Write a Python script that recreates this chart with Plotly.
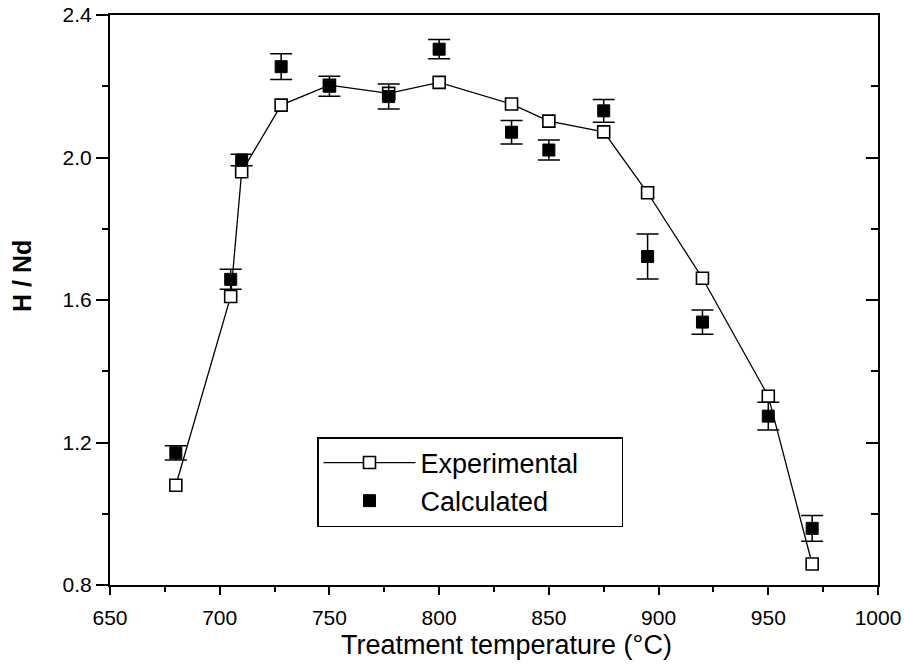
import plotly.graph_objects as go

# Experimental data (open squares, connected)
exp_T = [680, 705, 710, 728, 750, 777, 800, 833, 850, 875, 895, 920, 950, 970]
exp_H = [1.08, 1.61, 1.96, 2.147, 2.203, 2.18, 2.211, 2.15, 2.102, 2.072, 1.901, 1.661, 1.33, 0.859]

# Calculated data (filled squares with error bars)
calc_T = [680, 705, 710, 728, 750, 777, 800, 833, 850, 875, 895, 920, 950, 970]
calc_H = [1.171, 1.658, 1.993, 2.255, 2.200, 2.171, 2.304, 2.071, 2.021, 2.131, 1.722, 1.538, 1.274, 0.959]
calc_err = [0.02, 0.028, 0.016, 0.036, 0.028, 0.035, 0.027, 0.033, 0.028, 0.032, 0.063, 0.034, 0.039, 0.036]

FONT = "Liberation Sans, Arial, sans-serif"
NB = "\u00a0" * 5

fig = go.Figure()

fig.add_trace(go.Scatter(
    x=exp_T, y=exp_H, mode="lines+markers", name="Experimental" + NB,
    line=dict(color="black", width=1.3),
    marker=dict(symbol="square", size=12, color="white",
                line=dict(color="black", width=1.6)),
))

fig.add_trace(go.Scatter(
    x=calc_T, y=calc_H, mode="markers", name="Calculated",
    marker=dict(symbol="square", size=12, color="black",
                line=dict(color="black", width=1)),
    error_y=dict(type="data", array=calc_err, visible=True,
                 color="black", thickness=1.5, width=11),
))

# invisible trace to carry right y-axis with inward ticks
fig.add_trace(go.Scatter(x=[650], y=[0.8], yaxis="y2", mode="markers",
                         marker=dict(opacity=0), showlegend=False, hoverinfo="skip"))

fig.update_layout(
    width=904, height=672,
    margin=dict(l=110, r=26, t=15, b=87, autoexpand=False),
    paper_bgcolor="white", plot_bgcolor="white",
    font=dict(family=FONT, color="black", size=21),
    xaxis=dict(
        range=[650, 1000], dtick=50, tick0=650, automargin=False,
        showline=True, linecolor="black", linewidth=2, mirror=True,
        ticks="outside", ticklen=8, tickwidth=2, tickcolor="black",
        minor=dict(dtick=25, ticks="outside", ticklen=5, tickwidth=2, tickcolor="black"),
        showgrid=False, zeroline=False, ticklabelstandoff=5,
        tickfont=dict(size=21, family=FONT),
    ),
    yaxis=dict(
        range=[0.8, 2.4], dtick=0.4, tick0=0.8, tickformat=".1f", automargin=False,
        showline=True, linecolor="black", linewidth=2, mirror=True,
        ticks="outside", ticklen=12, tickwidth=2, tickcolor="black",
        minor=dict(dtick=0.2, ticks="outside", ticklen=6, tickwidth=2, tickcolor="black"),
        showgrid=False, zeroline=False,
        tickfont=dict(size=21, family=FONT),
    ),
    yaxis2=dict(
        overlaying="y", side="right", matches="y", range=[0.8, 2.4], automargin=False,
        dtick=0.4, tick0=0.8, showticklabels=False,
        ticks="inside", ticklen=12, tickwidth=2, tickcolor="black",
        minor=dict(dtick=0.2, ticks="inside", ticklen=7, tickwidth=2, tickcolor="black"),
        showgrid=False, zeroline=False, showline=False,
    ),
    legend=dict(
        x=(317 - 110) / 768, y=(585 - 437) / 570, xanchor="left", yanchor="top",
        bgcolor="white", bordercolor="black", borderwidth=1.5,
        font=dict(size=27, family=FONT), itemwidth=92,
        tracegroupgap=0,
    ),
    showlegend=True,
    annotations=[
        dict(text="Treatment temperature (°C)", xref="paper", yref="paper",
             x=(506 - 110) / 768, y=(585 - 645) / 570, showarrow=False,
             xanchor="center", yanchor="middle",
             font=dict(size=27, family=FONT)),
        dict(text="<b>H / Nd</b>", xref="paper", yref="paper",
             x=(22 - 110) / 768, y=(585 - 276) / 570, showarrow=False,
             xanchor="center", yanchor="middle", textangle=-90,
             font=dict(size=25, family=FONT)),
    ],
)

fig.write_html("out.html")
